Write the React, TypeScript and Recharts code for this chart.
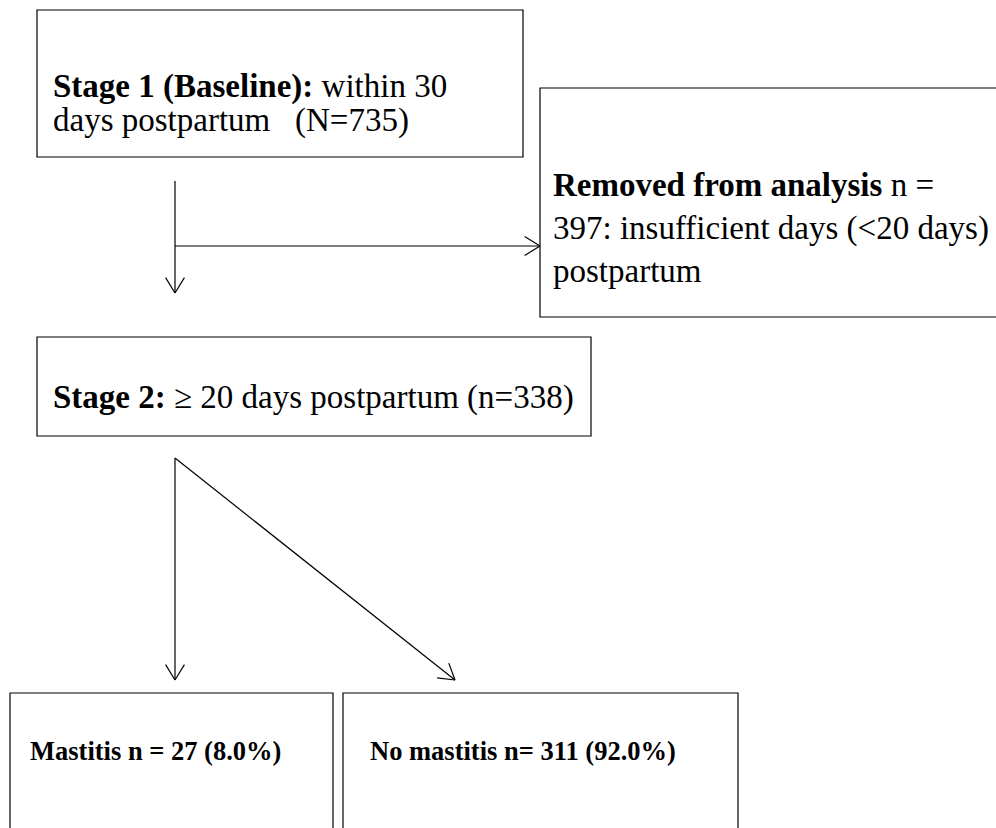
import React from "react";
import { ComposedChart, XAxis, YAxis, ReferenceArea, ReferenceLine } from "recharts";

const W = 996;
const H = 828;

// Boxes: [x1, y1, x2, y2]
const boxStage1 = [37, 10, 523, 157];
const boxRemoved = [540, 88, 1002, 317];
const boxStage2 = [37, 337, 591, 436];
const boxMastitis = [10, 693, 333, 834];
const boxNoMastitis = [343, 693, 738, 834];
const allBoxes = [boxStage1, boxRemoved, boxStage2, boxMastitis, boxNoMastitis];

// Text lines per box: [bold, regular, x, baseline y]
const textStage1 = [
  ["Stage 1 (Baseline):", " within 30", 53, 97],
  ["", "days postpartum   (N=735)", 53, 131],
];
const textRemoved = [
  ["Removed from analysis", " n =", 553, 196],
  ["", "397: insufficient days (<20 days)", 553, 239],
  ["", "postpartum", 553, 282],
];
const textStage2 = [["Stage 2:", " \u2265 20 days postpartum (n=338)", 53, 408]];
const textMastitis = [["Mastitis n = 27 (8.0%)", "", 30, 760]];
const textNoMastitis = [["No mastitis n= 311 (92.0%)", "", 370, 760]];
const bigFont = 33;
const smallFont = 26.5;

// Connectors: [x1, y1, x2, y2, arrow]
const connectors = [
  [175, 181, 175, 293, true],
  [175, 246, 540, 246, true],
  [175, 458, 175, 680, true],
  [175, 458, 455, 680, true],
];

function arrowWings(c: any[]) {
  const [x1, y1, x2, y2] = c;
  const ang = Math.atan2(y2 - y1, x2 - x1);
  const len = 18;
  const spread = 0.55;
  return [ang + Math.PI - spread, ang + Math.PI + spread].map((a) => [
    x2,
    y2,
    x2 + len * Math.cos(a),
    y2 + len * Math.sin(a),
  ]);
}

const fontFamily = "Liberation Serif";

function renderLines(lines: any[], size: number) {
  return lines.map((l, i) => (
    <text key={i} x={l[2]} y={l[3]} fontFamily={fontFamily} fontSize={size} fill="#000" style={{ whiteSpace: "pre" }}>
      {l[0] ? <tspan fontWeight="bold">{l[0]}</tspan> : null}
      {l[1] ? <tspan>{l[1]}</tspan> : null}
    </text>
  ));
}

const textBlocks: [any[], number][] = [
  [textStage1, bigFont],
  [textRemoved, bigFont],
  [textStage2, bigFont],
  [textMastitis, smallFont],
  [textNoMastitis, smallFont],
];

export default function App() {
  const data = [{ x: 0, y: 0 }, { x: W, y: H }];
  return (
    <div style={{ position: "absolute", left: 0, top: 0, background: "#fff" }}>
      <ComposedChart width={W} height={H} data={data} margin={{ top: 0, right: 0, bottom: 0, left: 0 }}>
        <XAxis type="number" dataKey="x" domain={[0, W]} hide allowDataOverflow />
        <YAxis type="number" domain={[0, H]} reversed hide allowDataOverflow />
        {allBoxes.map((b, i) => (
          <ReferenceArea
            key={"b" + i}
            x1={b[0]}
            y1={b[1]}
            x2={b[2]}
            y2={b[3]}
            fill="none"
            fillOpacity={0}
            stroke="#000"
            strokeWidth={1.2}
            ifOverflow="visible"
          />
        ))}
        {connectors.map((c, i) => (
          <ReferenceLine
            key={"c" + i}
            segment={[
              { x: c[0] as number, y: c[1] as number },
              { x: c[2] as number, y: c[3] as number },
            ]}
            stroke="#000"
            strokeWidth={1.2}
            ifOverflow="visible"
          />
        ))}
        {connectors
          .filter((c) => c[4])
          .flatMap((c, i) =>
            arrowWings(c).map((w, j) => (
              <ReferenceLine
                key={"a" + i + "-" + j}
                segment={[
                  { x: w[0], y: w[1] },
                  { x: w[2], y: w[3] },
                ]}
                stroke="#000"
                strokeWidth={1.2}
                ifOverflow="visible"
              />
            ))
          )}
        {textBlocks.map(([lines, size], i) => (
          <ReferenceArea
            key={"t" + i}
            x1={0}
            x2={1}
            y1={0}
            y2={1}
            fill="none"
            fillOpacity={0}
            stroke="none"
            ifOverflow="visible"
            label={{ content: () => <g>{renderLines(lines, size)}</g> }}
          />
        ))}
      </ComposedChart>
    </div>
  );
}
